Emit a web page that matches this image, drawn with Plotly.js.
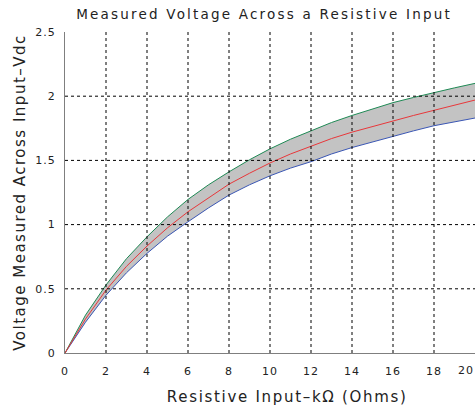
<!DOCTYPE html>
<html><head><meta charset="utf-8">
<script src="https://cdn.plot.ly/plotly-3.0.1.min.js"></script>
<style>html,body{margin:0;padding:0;background:#fff}#c{width:475px;height:407px}
#c .gtitle{letter-spacing:2.2px}
#c .ytitle{letter-spacing:1.5px}
#c .xtick text,#c .ytick text,#c .tick20 text{letter-spacing:1px}
#c .xlab text{letter-spacing:1.7px}
</style>
</head><body><div id="c"></div>
<script>
const resistance = [0,1,2,3,4,5,6,7,8,9,10,11,12,13,14,15,16,17,18,19,20];
const upperV = [0,0.295,0.530,0.735,0.905,1.060,1.196,1.310,1.411,1.505,1.590,1.665,1.730,1.795,1.850,1.900,1.950,1.990,2.030,2.065,2.100];
const nominalV = [0,0.265,0.490,0.675,0.833,0.975,1.100,1.210,1.315,1.400,1.480,1.550,1.610,1.670,1.720,1.765,1.810,1.850,1.890,1.930,1.970];
const lowerV = [0,0.240,0.450,0.625,0.776,0.910,1.022,1.130,1.230,1.310,1.380,1.440,1.490,1.550,1.600,1.645,1.690,1.730,1.770,1.800,1.830];
const xTicks = [0,2,4,6,8,10,12,14,16,18,20];
const xTickText = ['0','2','4','6','8','10','12','14','16','18',''];
const yTicks = [0,0.5,1,1.5,2,2.5];
const yTickText = ['0','0.5','1','1.5','2','2.5'];

const font = 'DejaVu Sans, Verdana, sans-serif';
const traces = [
  {x: resistance, y: lowerV, mode:'lines', line:{color:'#3a56b4', width:1}, hoverinfo:'skip'},
  {x: resistance, y: upperV, mode:'lines', fill:'tonexty', fillcolor:'#c3c3c3', line:{color:'#1f8a55', width:1}, hoverinfo:'skip'},
  {x: resistance, y: nominalV, mode:'lines', line:{color:'#e8373a', width:1}, hoverinfo:'skip'}
];
const gridStyle = {color:'#000', width:1, dash:'3px,3px'};
const shapes = [];
xTicks.slice(1, -1).forEach(v => shapes.push({type:'line', xref:'x', yref:'paper', x0:v, x1:v, y0:0, y1:1, line:gridStyle, layer:'above'}));
yTicks.slice(1, -1).forEach(v => shapes.push({type:'line', xref:'paper', yref:'y', x0:0, x1:1, y0:v, y1:v, line:gridStyle, layer:'above'}));

const tickFont = {family:font, size:11, color:'#222'};
const layout = {
  width:475, height:407,
  margin:{l:65, r:0, t:32, b:54},
  showlegend:false,
  paper_bgcolor:'#fff', plot_bgcolor:'#fff',
  font:{family:font, size:11, color:'#222'},
  title:{text:'Measured Voltage Across a Resistive Input', font:{family:font, size:13.5, color:'#222'}, x:0.556, xanchor:'center', y:0.965, yanchor:'middle'},
  xaxis:{range:[0,20], tickvals:xTicks, ticktext:xTickText, showgrid:false,
    showline:true, linecolor:'#7f7f7f', linewidth:1, zeroline:false, ticks:'outside', ticklen:8, tickcolor:'rgba(0,0,0,0)', tickfont:tickFont},
  yaxis:{range:[0,2.5], tickvals:yTicks, ticktext:yTickText, showgrid:false,
    showline:true, linecolor:'#7f7f7f', linewidth:1, zeroline:false, ticks:'outside', ticklen:6, tickcolor:'rgba(0,0,0,0)', tickfont:tickFont,
    title:{text:'Voltage Measured Across Input\u2013Vdc', font:{family:font, size:15, color:'#222'}, standoff:9}},
  shapes: shapes,
  annotations:[
    {text:'20', x:20, xref:'x', y:0, yref:'paper', xanchor:'right', yanchor:'top', yshift:-9, showarrow:false, font:tickFont},
    {text:'Resistive Input\u2013k\u03A9 (Ohms)', x:0.541, xref:'paper', y:-0.137, yref:'paper', xanchor:'center', yanchor:'middle', showarrow:false, font:{family:font, size:15, color:'#222'}}
  ]
};
Plotly.newPlot('c', traces, layout, {displayModeBar:false, staticPlot:true}).then(() => {
  const anns = document.querySelectorAll('#c .annotation');
  if (anns[0]) anns[0].classList.add('tick20');
  if (anns[1]) anns[1].classList.add('xlab');
});
</script></body></html>
